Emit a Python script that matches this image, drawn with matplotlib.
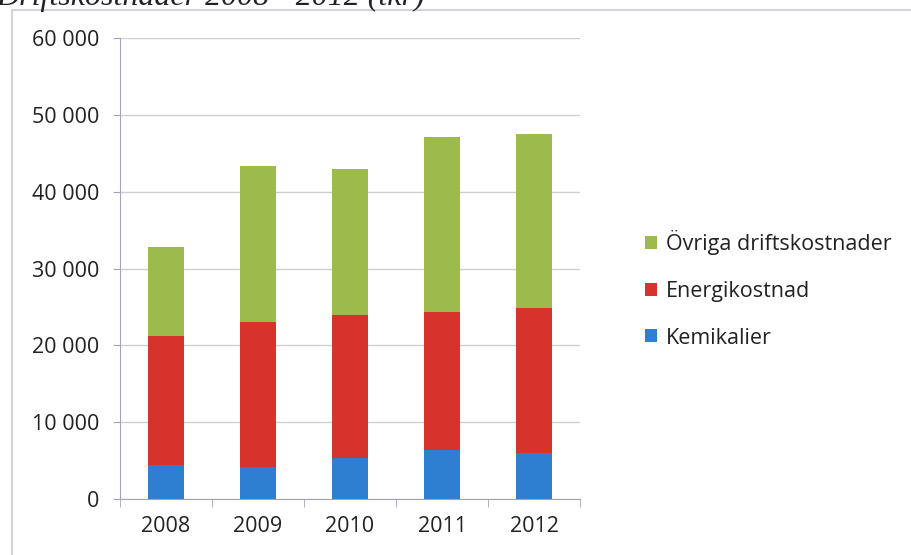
import numpy as np
import matplotlib.pyplot as plt
from matplotlib.patches import Rectangle
from matplotlib.ticker import FuncFormatter, FixedLocator

plt.rcParams['font.family'] = ['Open Sans', 'DejaVu Sans']

# data (tkr)
years = ['2008', '2009', '2010', '2011', '2012']
kemikalier = [4400, 4200, 5300, 6400, 6000]
energikostnad = [16800, 18800, 18600, 17900, 18900]
ovriga = [11600, 20300, 19050, 22800, 22600]

c_blue = '#2e7fd2'
c_red = '#d5332b'
c_green = '#9dbb4c'

fig = plt.figure(figsize=(9.11, 5.55), dpi=100)
ax = fig.add_axes([0.1317, 0.1009, 0.505, 0.8306])

x = np.arange(len(years))
w = 0.39
bottom2 = np.array(kemikalier)
bottom3 = bottom2 + np.array(energikostnad)
b1 = ax.bar(x, kemikalier, w, color=c_blue, label='Kemikalier', zorder=3)
b2 = ax.bar(x, energikostnad, w, bottom=bottom2, color=c_red, label='Energikostnad', zorder=3)
b3 = ax.bar(x, ovriga, w, bottom=bottom3, color=c_green, label='Övriga driftskostnader', zorder=3)

ax.set_xlim(-0.5, len(years) - 0.5)
ax.set_ylim(0, 60000)
ax.set_yticks(range(0, 60001, 10000))
ax.yaxis.set_major_formatter(FuncFormatter(lambda v, p: f'{int(v):,}'.replace(',', ' ')))
ax.set_xticks(x)
ax.set_xticklabels(years)
ax.xaxis.set_minor_locator(FixedLocator(np.arange(-0.5, len(years), 1.0)))

ax.grid(axis='y', color='#cfcfcf', linewidth=1, zorder=0)
for s in ['top', 'right']:
    ax.spines[s].set_visible(False)
ax.spines['left'].set_color('#a4a4b8')
ax.spines['bottom'].set_color('#a4a4b8')
ax.tick_params(axis='y', length=5, color='#a4a4b8', labelsize=15.5, labelcolor='#222222', pad=10)
ax.tick_params(axis='x', which='major', length=0, labelsize=15.5, labelcolor='#222222', pad=12)
ax.tick_params(axis='x', which='minor', length=6, color='#a4a4b8')

# legend (reversed order like Excel)
ax.legend([b3, b2, b1], ['Övriga driftskostnader', 'Energikostnad', 'Kemikalier'],
          loc='center left', bbox_to_anchor=(1.1, 0.455), frameon=False,
          fontsize=15.5, handlelength=0.55, handleheight=0.55, handletextpad=0.4,
          labelspacing=1.2, labelcolor='#222222')

# chart border and clipped title above it
fig.patches.append(Rectangle((0.013, -0.05), 1.2, 1.032, transform=fig.transFigure,
                             fill=False, edgecolor='#d2d2da', linewidth=1.5))
fig.text(-0.004, 0.991, 'Driftskostnader 2008 - 2012 (tkr)', family='Liberation Serif',
         style='italic', fontsize=23, color='#222222', va='baseline')

fig.savefig('out.png', dpi=100)
